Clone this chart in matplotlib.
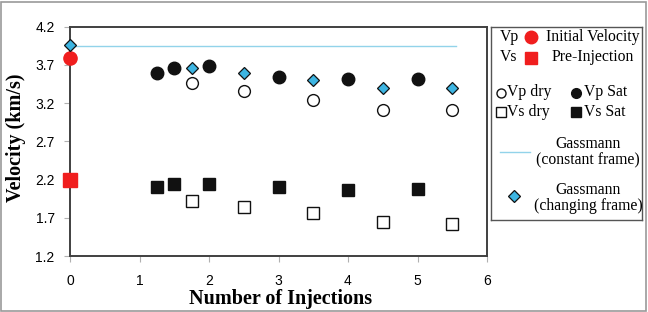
import matplotlib
matplotlib.use("Agg")
import matplotlib.pyplot as plt
from matplotlib.patches import Rectangle
from matplotlib.lines import Line2D

# ---- data ----
x_sat = [1.25, 1.5, 2.0, 3.0, 4.0, 5.0]
vp_sat = [3.59, 3.66, 3.69, 3.54, 3.52, 3.515]
vs_sat = [2.10, 2.14, 2.14, 2.10, 2.06, 2.08]

x_dry = [1.75, 2.5, 3.5, 4.5, 5.5]
vp_dry = [3.46, 3.36, 3.245, 3.105, 3.105]
vs_dry = [1.92, 1.845, 1.76, 1.645, 1.62]

x_gass = [0, 1.75, 2.5, 3.5, 4.5, 5.5]
vp_gass = [3.955, 3.665, 3.60, 3.50, 3.40, 3.40]

x_const = [0, 5.56]
vp_const = [3.947, 3.947]

x_init = [0]
vp_init = [3.79]
vs_init = [2.19]

xticks = [0, 1, 2, 3, 4, 5, 6]
yticks = [1.2, 1.7, 2.2, 2.7, 3.2, 3.7, 4.2]

RED = "#f01e1e"
BLUE = "#3db5e2"
LINEBLUE = "#92d3ea"
SERIF = ["Liberation Serif", "DejaVu Serif"]
SANS = ["Liberation Sans", "DejaVu Sans"]

W, H = 648, 312
fig = plt.figure(figsize=(W / 100, H / 100), dpi=100)

# grey frame round the whole figure
fig.patches.append(Rectangle((1 / W, 1 / H), 1 - 3 / W, 1 - 3 / H, transform=fig.transFigure,
                             fill=False, edgecolor="#9a9a9a", linewidth=1.2))

# ---- main axes ----
ax = fig.add_axes([70 / W, 1 - 256 / H, 417 / W, 229.3 / H])
ax.plot(x_const, vp_const, color=LINEBLUE, lw=1.0, zorder=2)
ax.plot(x_gass, vp_gass, ls="none", marker="D", ms=6.5, mfc=BLUE, mec="#111111", mew=0.9,
        clip_on=False, zorder=4)
ax.plot(x_dry, vp_dry, ls="none", marker="o", ms=8.5, mfc="white", mec="#111111", mew=1.0, zorder=3)
ax.plot(x_sat, vp_sat, ls="none", marker="o", ms=9, mfc="#111111", mec="#111111", zorder=3)
ax.plot(x_dry, vs_dry, ls="none", marker="s", ms=8.5, mfc="white", mec="#111111", mew=1.0, zorder=3)
ax.plot(x_sat, vs_sat, ls="none", marker="s", ms=9, mfc="#111111", mec="#111111", zorder=3)
ax.plot(x_init, vp_init, ls="none", marker="o", ms=9.5, mfc=RED, mec=RED, clip_on=False, zorder=3)
ax.plot(x_init, vs_init, ls="none", marker="s", ms=9.5, mfc=RED, mec=RED, clip_on=False, zorder=3)

ax.set_xlim(0, 6)
ax.set_ylim(1.2, 4.2)
ax.set_xticks(xticks)
ax.set_yticks(yticks)
ax.set_xticklabels([str(t) for t in xticks], family=SANS, fontsize=10)
ax.set_yticklabels([f"{t:.1f}" for t in yticks], family=SANS, fontsize=10)
ax.tick_params(axis="x", direction="out", length=4, color="#b0b0b0", pad=9)
ax.tick_params(axis="y", direction="out", length=4, color="#b0b0b0", pad=7)
for s in ax.spines.values():
    s.set_color("#404040")
    s.set_linewidth(1.4)

fig.text(16.5 / W, 1 - 138 / H, "Velocity (km/s)", rotation=90, ha="center", va="center",
         family=SERIF, fontweight="bold", fontsize=14.5)
fig.text(281 / W, 1 - 299 / H, "Number of Injections", ha="center", va="center",
         family=SERIF, fontweight="bold", fontsize=14.5)

# ---- hand-made legend box (pixel layout) ----
lg = fig.add_axes([491 / W, 1 - 220 / H, 151 / W, 193 / H])
lg.set_xlim(491, 642)
lg.set_ylim(220, 27)
lg.set_xticks([])
lg.set_yticks([])
for s in lg.spines.values():
    s.set_color("#555555")
    s.set_linewidth(1.0)

fs = 11.3
lg.text(500, 37, "Vp", family=SERIF, fontsize=fs, va="center", ha="left")
lg.plot([531], [37], ls="none", marker="o", ms=9, mfc=RED, mec=RED)
lg.text(593, 37, "Initial Velocity", family=SERIF, fontsize=fs, va="center", ha="center")
lg.text(500, 57, "Vs", family=SERIF, fontsize=fs, va="center", ha="left")
lg.plot([531], [58], ls="none", marker="s", ms=8.5, mfc=RED, mec=RED)
lg.text(593, 57, "Pre-Injection", family=SERIF, fontsize=fs, va="center", ha="center")

lg.plot([501], [92.5], ls="none", marker="o", ms=6.5, mfc="white", mec="#111111", mew=1.0)
lg.text(507, 92.5, "Vp dry", family=SERIF, fontsize=fs, va="center", ha="left")
lg.plot([576], [92.5], ls="none", marker="o", ms=7, mfc="#111111", mec="#111111")
lg.text(584, 92.5, "Vp Sat", family=SERIF, fontsize=fs, va="center", ha="left")
lg.plot([501], [112], ls="none", marker="s", ms=7, mfc="white", mec="#111111", mew=1.0)
lg.text(507, 112, "Vs dry", family=SERIF, fontsize=fs, va="center", ha="left")
lg.plot([576], [112], ls="none", marker="s", ms=7, mfc="#111111", mec="#111111")
lg.text(584, 112, "Vs Sat", family=SERIF, fontsize=fs, va="center", ha="left")

lg.add_line(Line2D([500, 530], [151.5, 151.5], color=LINEBLUE, lw=1.0))
lg.text(588, 143.5, "Gassmann", family=SERIF, fontsize=fs, va="center", ha="center")
lg.text(588, 160, "(constant frame)", family=SERIF, fontsize=fs, va="center", ha="center")
lg.plot([514], [196], ls="none", marker="D", ms=6, mfc=BLUE, mec="#111111", mew=0.9)
lg.text(588, 190, "Gassmann", family=SERIF, fontsize=fs, va="center", ha="center")
lg.text(588, 206.5, "(changing frame)", family=SERIF, fontsize=fs, va="center", ha="center")

fig.savefig("out.png", dpi=100)
